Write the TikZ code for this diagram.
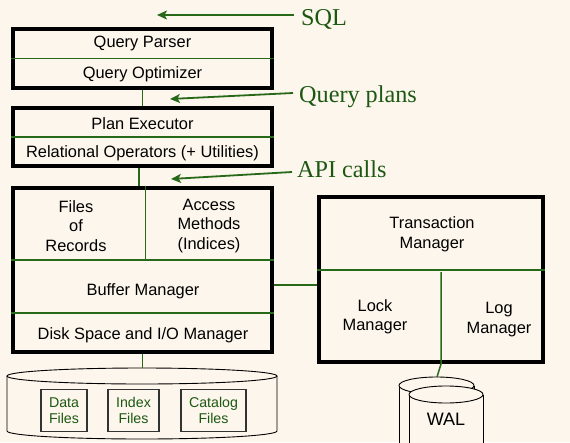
\documentclass[tikz,border=0pt]{standalone}
\usepackage{fontspec}
\setmainfont{Liberation Serif}
\setsansfont{Liberation Sans}
\usetikzlibrary{arrows.meta}

\definecolor{paper}{RGB}{253,246,236}
\definecolor{wire}{RGB}{40,105,25}
\definecolor{ink}{RGB}{28,88,18}

\tikzset{
    layer/.style={draw=black, line width=4pt, minimum width=259pt, inner sep=0pt},
    cell/.style={font=\sffamily\fontsize{16.4}{19.5}\selectfont, align=center, inner sep=0pt},
    split/.style={draw=wire, line width=1.3pt},
    link/.style={draw=wire, line width=1.5pt},
    tag/.style={font=\fontsize{24.2}{28}\selectfont, text=ink, inner xsep=7pt, inner ysep=0pt},
    pointer/.style={draw=wire, line width=1.8pt, -{Stealth[length=10pt,width=9pt,inset=2.5pt]}},
    filebox/.style={draw=black!80, line width=1.2pt, minimum height=42pt, inner sep=0pt,
        font=\sffamily\fontsize{14.2}{16}\selectfont, text=ink, align=center},
    can/.style={draw=black, line width=0.9pt}
}

\begin{document}
\begin{tikzpicture}[x=1pt,y=-1pt]

    % background
    \useasboundingbox (0,0) rectangle (570,442);
    \fill[paper] (0,0) rectangle (570,442);
    \clip (0,0) rectangle (570,442);

    % query processing
    \node[layer, minimum height=59pt] (qproc) at (142.5,58.5) {};
    \draw[split] (qproc.west) -- (qproc.east);
    \node[cell] (parser) at (142.5,43.5) {Query Parser};
    \node[cell] (optim) at (142.5,74.5) {Query Optimizer};

    % execution
    \node[layer, minimum height=58pt] (exec) at (142.5,137) {};
    \draw[split] (exec.west) -- (exec.east);
    \node[cell] (planex) at (142.5,123.5) {Plan Executor};
    \node[cell] (relops) at (142.5,153.5) {Relational Operators (+ Utilities)};

    % storage layers
    \node[layer, minimum height=164pt] (store) at (142.5,270) {};
    \draw[split] (store.west |- 0,260) -- (store.east |- 0,260);
    \draw[split] (store.west |- 0,313) -- (store.east |- 0,313);
    \draw[split] (145.5,186) -- (145.5,260);
    \node[cell] (recfiles) at (76,226) {Files\\of\\Records};
    \node[cell] (access) at (209,226) {Access\\Methods\\(Indices)};
    \node[cell] (bufmgr) at (143,291) {Buffer Manager};
    \node[cell] (diskmgr) at (143,335.5) {Disk Space and I/O Manager};

    % transactions
    \node[layer, minimum width=224pt, minimum height=165pt] (txn) at (431,279.5) {};
    \draw[split] (txn.west |- 0,270) -- (txn.east |- 0,270);
    \node[cell] (txnmgr) at (432,234.5) {Transaction\\Manager};
    \node[cell] (lockmgr) at (375,317) {Lock\\Manager};
    \node[cell] (logmgr) at (499,319.5) {Log\\Manager};

    % links between layers
    \draw[link] (qproc.south) -- (exec.north);
    \draw[link] ([xshift=-3.5pt]exec.south) -- ([xshift=-3.5pt]store.north);
    \draw[link] (store.east |- 0,285) -- (txn.west |- 0,285);

    % labels with arrows
    \coordinate (sqltip) at (157,15);
    \coordinate (plantip) at (170,99);
    \coordinate (apitip) at (171,179);
    \node[tag, anchor=base west] (sql) at (294,25) {SQL};
    \node[tag, anchor=base west] (qplans) at (292,102) {Query plans};
    \node[tag, anchor=base west] (api) at (290,177) {API calls};
    \draw[pointer] (sql.west |- sqltip) -- (sqltip);
    \draw[pointer] ([xshift=1pt]qplans.west |- 0,93) -- (plantip);
    \draw[pointer] ([xshift=2pt]api.west |- 0,172) -- (apitip);

    % database disk
    \coordinate (disk) at (142.5,368);
    \draw[can] (7,376) -- (7,431) arc[start angle=180, end angle=0, x radius=135, y radius=8] -- (277,376);
    \draw[can] (142,376) ellipse [x radius=135, y radius=8];
    \draw[link] (store.south) -- (disk);

    \foreach \nm/\cx/\w/\txt in {data/64/46/Data, index/133.5/51/Index, catalog/213.5/65/Catalog}
        \node[filebox, minimum width=\w pt] (\nm) at (\cx,410.5) {\txt\\Files};

    % log disk (two cans)
    \coordinate (waltop) at (437,377);
    \fill[paper] (399,385.5) rectangle (474,450);
    \draw[can] (399,450) -- (399,385.5) (474,385.5) -- (474,450);
    \draw[can, fill=paper] (436.5,385.5) ellipse [x radius=37.5, y radius=8.5];
    \fill[paper] (409,394.5) rectangle (483,450);
    \draw[can] (409,450) -- (409,394.5) (483,394.5) -- (483,450);
    \draw[can, fill=paper] (446,394.5) ellipse [x radius=37, y radius=8.5];
    \node[cell, font=\sffamily\fontsize{18}{20}\selectfont] (wal) at (446,419) {WAL};

    \coordinate (logsplit) at (441,272);
    \draw[link] (logsplit) -- (logsplit |- txn.south) -- (waltop);

\end{tikzpicture}
\end{document}
